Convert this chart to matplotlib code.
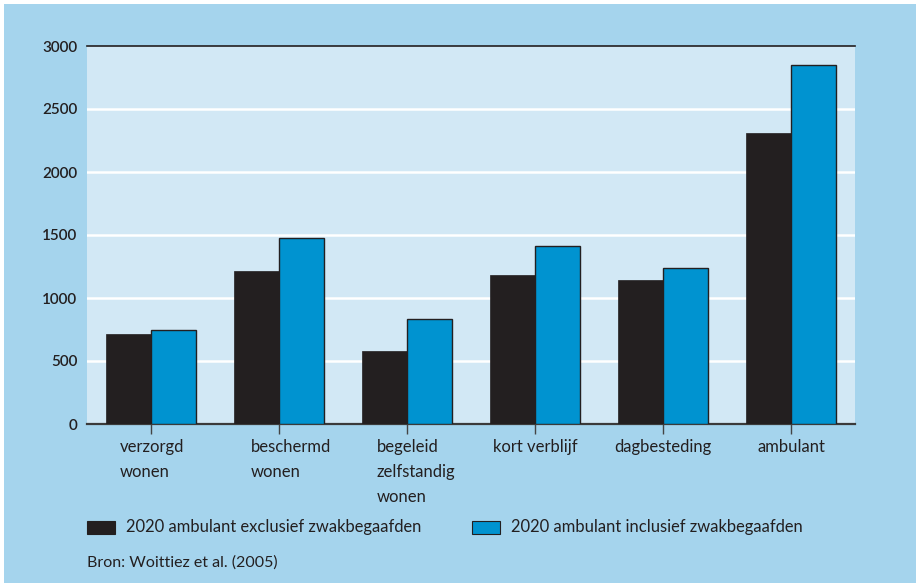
import matplotlib
matplotlib.use("Agg")
import matplotlib.pyplot as plt
import numpy as np
from matplotlib.patches import Rectangle
from matplotlib.transforms import blended_transform_factory

categories = ["verzorgd\nwonen", "beschermd\nwonen", "begeleid\nzelfstandig\nwonen",
              "kort verblijf", "dagbesteding", "ambulant"]
exclusief = [715, 1215, 580, 1185, 1140, 2310]
inclusief = [750, 1475, 830, 1415, 1235, 2850]
series_labels = ["2020 ambulant exclusief zwakbegaafden",
                 "2020 ambulant inclusief zwakbegaafden"]
yticks = [0, 500, 1000, 1500, 2000, 2500, 3000]
source = "Bron: Woittiez et al. (2005)"

FIG_BG = "#a5d4ed"
AX_BG = "#d2e8f5"
DARK = "#231f20"
BLUE = "#0093d0"
FONT = "Lato"

fig = plt.figure(figsize=(9.17, 5.84), dpi=100, facecolor="white")
W, H = 917, 584
fig.patches.append(Rectangle((4 / W, 1 / H), 912 / W, 579 / H,
                             transform=fig.transFigure, facecolor=FIG_BG,
                             edgecolor="none", zorder=-10))

ax = fig.add_axes([87 / W, 1 - 424 / H, 768 / W, 378 / H])
ax.set_facecolor(AX_BG)

x = np.arange(len(categories))
bw = 0.348
ax.bar(x - bw / 2, exclusief, bw, color=DARK, edgecolor=DARK, linewidth=0.5, zorder=3)
ax.bar(x + bw / 2, inclusief, bw, color=BLUE, edgecolor=DARK, linewidth=1.0, zorder=3)

ax.set_xlim(-0.5, len(categories) - 0.5)
ax.set_ylim(0, 3000)
ax.set_yticks(yticks)
ax.set_yticklabels([str(v) for v in yticks], fontfamily=FONT, fontsize=11,
                   color=DARK, fontweight="semibold")
ax.tick_params(axis="y", length=0, pad=7)
for v in yticks[1:-1]:
    ax.axhline(v, color="white", linewidth=1.8, zorder=1)

ax.set_xticks(x)
ax.set_xticklabels([])
ax.tick_params(axis="x", length=7, width=1.0, color="#444444", direction="out")

trans = blended_transform_factory(ax.transData, ax.transAxes)
offsets = [0.01, 0.09, 0.07, 0.0, 0.0, 0.0]
for xi, lab, off in zip(x, categories, offsets):
    ax.text(xi + off, -0.04, lab, transform=trans, ha="center", va="top",
            multialignment="left", fontfamily=FONT, fontsize=12, color=DARK,
            linespacing=1.68)

for side in ["left", "right"]:
    ax.spines[side].set_visible(False)
ax.spines["top"].set_color(DARK)
ax.spines["top"].set_linewidth(1.2)
ax.spines["bottom"].set_color("#3a3a3a")
ax.spines["bottom"].set_linewidth(1.6)

# legend row
for (px, col, ec), lab, tx in zip([(87, DARK, DARK), (472, BLUE, DARK)], series_labels, [126, 511]):
    fig.patches.append(Rectangle((px / W, 1 - 534 / H), 28 / W, 13 / H,
                                 transform=fig.transFigure, facecolor=col,
                                 edgecolor=ec, linewidth=0.8, zorder=2))
    fig.text(tx / W, 1 - 527 / H, lab, ha="left", va="center",
             fontfamily=FONT, fontsize=11.9, color=DARK)

fig.text(87 / W, 1 - 563 / H, source, ha="left", va="center",
         fontfamily=FONT, fontsize=11.5, color=DARK)

fig.savefig("out.png", dpi=100, facecolor=fig.get_facecolor())
